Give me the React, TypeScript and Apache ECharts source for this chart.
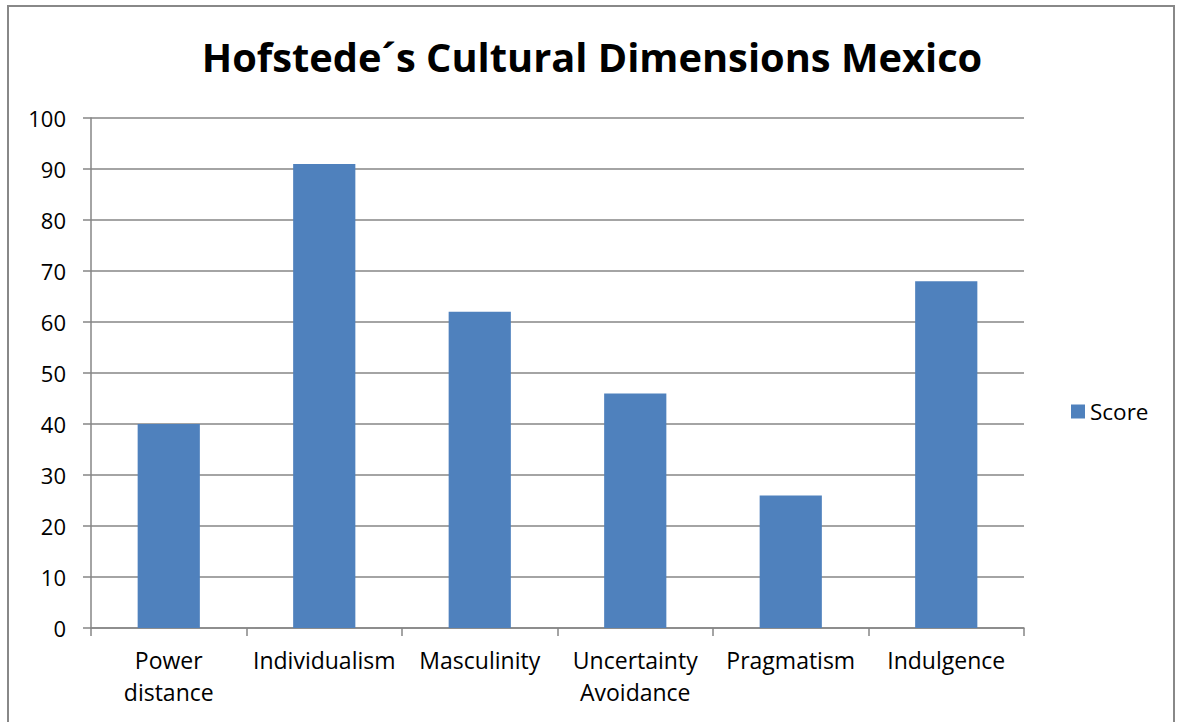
import React, { useEffect, useRef } from "react";
import * as echarts from "echarts";

const categories = ["Power\ndistance", "Individualism", "Masculinity", "Uncertainty\nAvoidance", "Pragmatism", "Indulgence"];
const scores = [40, 91, 62, 46, 26, 68];
const seriesName = "Score";
const titleText = "Hofstede´s Cultural Dimensions Mexico";

export default function App() {
  const ref = useRef<HTMLDivElement>(null);
  useEffect(() => {
    document.body.style.margin = "0";
    const chart = echarts.init(ref.current!, null, { renderer: "svg" });
    const font = "Open Sans";
    chart.setOption({
      animation: false,
      backgroundColor: "#ffffff",
      title: {
        text: titleText,
        left: 587,
        textAlign: "center",
        top: 31,
        textStyle: { fontFamily: font, fontWeight: "bold", fontSize: 39.8, color: "#000" },
      },
      legend: {
        orient: "vertical",
        left: 1066,
        top: 395,
        itemWidth: 14,
        itemHeight: 14,
        itemGap: 6,
        icon: "rect",
        textStyle: { fontFamily: font, fontSize: 22.5, color: "#000" },
        data: [seriesName],
      },
      grid: { left: 91, right: 157, top: 118, bottom: 94, containLabel: false },
      xAxis: {
        type: "category",
        data: categories,
        axisLine: { lineStyle: { color: "#868686", width: 1.5 } },
        axisTick: { show: true, length: 8, alignWithLabel: false, lineStyle: { color: "#868686", width: 1.5 } },
        axisLabel: { fontFamily: font, fontSize: 23, color: "#000", margin: 16, lineHeight: 32, interval: 0 },
      },
      yAxis: {
        type: "value",
        min: 0,
        max: 100,
        interval: 10,
        axisLine: { show: true, lineStyle: { color: "#868686", width: 1.5 } },
        axisTick: { show: true, length: 8, lineStyle: { color: "#868686", width: 1.5 } },
        splitLine: { lineStyle: { color: "#868686", width: 1.5 } },
        axisLabel: { fontFamily: font, fontSize: 22, color: "#000", margin: 25 },
      },
      series: [
        {
          name: seriesName,
          type: "bar",
          data: scores,
          barWidth: "40%",
          itemStyle: { color: "#4f81bd" },
        },
      ],
      graphic: [
        {
          type: "rect",
          shape: { x: 8, y: 6, width: 1166, height: 730 },
          style: { fill: "none", stroke: "#888888", lineWidth: 2 },
          silent: true,
        },
      ],
    });
    return () => chart.dispose();
  }, []);
  return <div ref={ref} style={{ position: "absolute", left: 0, top: 0, width: 1181, height: 722 }} />;
}
